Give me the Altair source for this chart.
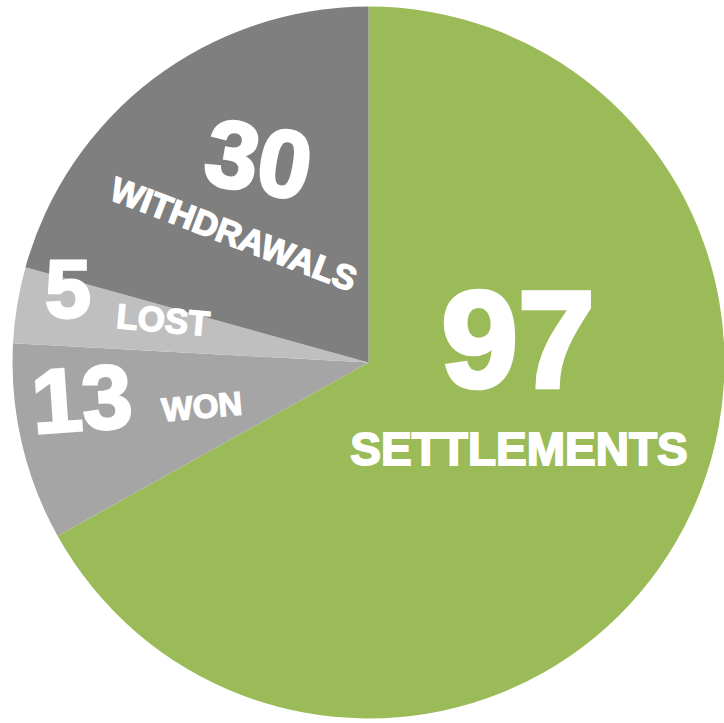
import altair as alt
import pandas as pd

categories = ["SETTLEMENTS", "WON", "LOST", "WITHDRAWALS"]
counts = [97, 13, 5, 30]
slice_order = [0, 1, 2, 3]

df = pd.DataFrame({"category": categories, "count": counts, "order": slice_order})

FONT = "Liberation Sans"
base = alt.Chart(df)

CX, CY = 368.5, 362.5

pie = base.mark_arc(outerRadius=356).encode(
    x=alt.value(CX),
    y=alt.value(CY),
    theta=alt.Theta("count:Q", stack=True),
    color=alt.Color(
        "category:N",
        scale=alt.Scale(domain=categories, range=["#9BBB59", "#A5A5A5", "#BFBFBF", "#7F7F7F"]),
        legend=None,
    ),
    order=alt.Order("order:Q"),
)


def label(cat, field, x, y, size, angle=0, sw=1.5):
    return base.transform_filter(alt.datum.category == cat).mark_text(
        font=FONT, fontWeight="bold", fontSize=size, color="white",
        stroke="white", strokeWidth=sw,
        align="center", baseline="middle", angle=angle,
    ).encode(x=alt.value(x), y=alt.value(y), text=field)


layers = [
    pie,
    label("SETTLEMENTS", "count:Q", 518, 346, 138, 0, 4.5),
    label("SETTLEMENTS", "category:N", 519, 451, 46, 0, 1.8),
    label("WITHDRAWALS", "count:Q", 258, 163, 95, 10, 3),
    label("WITHDRAWALS", "category:N", 233, 236, 34.5, 21, 1.4),
    label("LOST", "count:Q", 68, 292, 82, 0, 3),
    label("LOST", "category:N", 163, 321, 35, 5, 1.4),
    label("WON", "count:Q", 82, 403, 90, 356, 3),
    label("WON", "category:N", 202, 408, 33, 355, 1.4),
]

chart = alt.layer(*layers).properties(
    width=724, height=723, autosize=alt.AutoSizeParams(type="none"), padding=0,
    background="white",
).configure_view(stroke=None)

chart.save("out.html", embed_options={"renderer": "svg", "actions": False})
